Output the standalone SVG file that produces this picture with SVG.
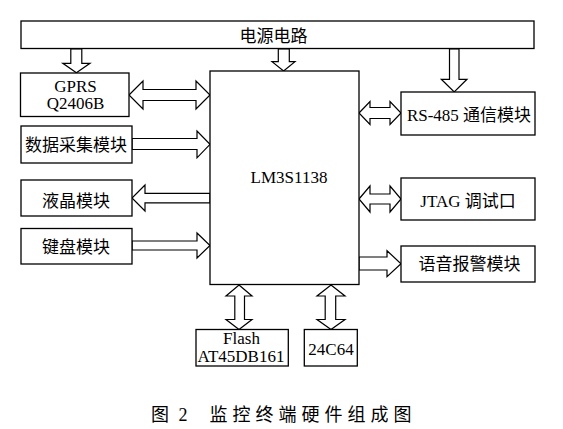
<svg xmlns="http://www.w3.org/2000/svg" width="563" height="429" viewBox="0 0 563 429">
<style>
.box{fill:#fff;stroke:#000;stroke-width:1.3}
.arr{fill:#fff;stroke:#000;stroke-width:1.2;stroke-linejoin:miter}
text{font-family:"Liberation Serif","Noto Sans CJK SC",serif;font-size:17px;fill:#000;text-anchor:middle}
.cap{font-size:18px;text-anchor:start}
</style>
<rect width="563" height="429" fill="#fff"/>
<g id="connectors">
<polygon class="arr" points="70.8,49 81.8,49 81.8,63.3 90,63.3 76.4,72.8 62.8,63.3 70.8,63.3"/>
<polygon class="arr" points="278.3,49 289.3,49 289.3,61.7 295,61.7 283.6,71 272,61.7 278.3,61.7"/>
<polygon class="arr" points="449.5,49 459,49 459,79.3 467,79.3 454.2,92 441.3,79.3 449.5,79.3"/>
<polygon class="arr" points="129,95 143,81 143,89.5 196,89.5 196,81 210,95 196,109 196,100.5 143,100.5 143,109"/>
<polygon class="arr" points="359,113 370,101.5 370,107.5 390,107.5 390,101.5 401,113 390,124.5 390,118.5 370,118.5 370,124.5"/>
<polygon class="arr" points="132,138.5 197,138.5 197,131 210,144.3 197,157.8 197,149.5 132,149.5"/>
<polygon class="arr" points="210,193.3 145,193.3 145,185 132,198 145,211 145,202.8 210,202.8"/>
<polygon class="arr" points="132,241 197,241 197,233 210,245.5 197,258 197,250 132,250"/>
<polygon class="arr" points="359,199 370,186 370,194 390,194 390,186 401,199 390,212 390,204 370,204 370,212"/>
<polygon class="arr" points="359,257 387,257 387,250.7 401,263.7 387,276.7 387,270 359,270"/>
<polygon class="arr" points="239,285 252,296 244.5,296 244.5,319.5 252,319.5 239,329.5 226,319.5 234.8,319.5 234.8,296 226,296"/>
<polygon class="arr" points="331,285 345,296 335.7,296 335.7,319.5 345,319.5 331,329.5 317,319.5 325.2,319.5 325.2,296 317,296"/>
</g>
<g id="power"><rect class="box" x="21" y="21" width="513" height="27.5"/><text x="273.5" y="42">电源电路</text></g>
<g id="mcu"><rect class="box" x="210" y="71" width="149" height="213.5"/><text x="289" y="183">LM3S1138</text></g>
<g id="gprs"><rect class="box" x="20.5" y="73" width="108.5" height="43.5"/><text x="75.5" y="92">GPRS</text><text x="75.5" y="108.5">Q2406B</text></g>
<g id="daq"><rect class="box" x="21" y="126" width="111" height="37"/><text x="76" y="151">数据采集模块</text></g>
<g id="lcd"><rect class="box" x="21" y="180" width="111" height="36"/><text x="76" y="206.5">液晶模块</text></g>
<g id="keyboard"><rect class="box" x="21" y="228.5" width="111" height="35.5"/><text x="76" y="252.8">键盘模块</text></g>
<g id="rs485"><rect class="box" x="401" y="92" width="134" height="43"/><text x="469" y="120.5">RS-485 通信模块</text></g>
<g id="jtag"><rect class="box" x="401" y="178" width="134" height="42"/><text x="468" y="206.5">JTAG 调试口</text></g>
<g id="voice"><rect class="box" x="401" y="246" width="134" height="36"/><text x="469.5" y="270">语音报警模块</text></g>
<g id="flash"><rect class="box" x="196" y="329.5" width="92.3" height="36.5"/><text x="241.5" y="344">Flash</text><text x="241" y="361.5">AT45DB161</text></g>
<g id="eeprom"><rect class="box" x="304.3" y="329.5" width="53" height="36.5"/><text x="331" y="354.5">24C64</text></g>
<g id="caption"><text class="cap" x="151" y="421">图</text><text class="cap" x="178.5" y="421">2</text><text class="cap" x="209.5" y="421" letter-spacing="5">监控终端硬件组成图</text></g>
</svg>
